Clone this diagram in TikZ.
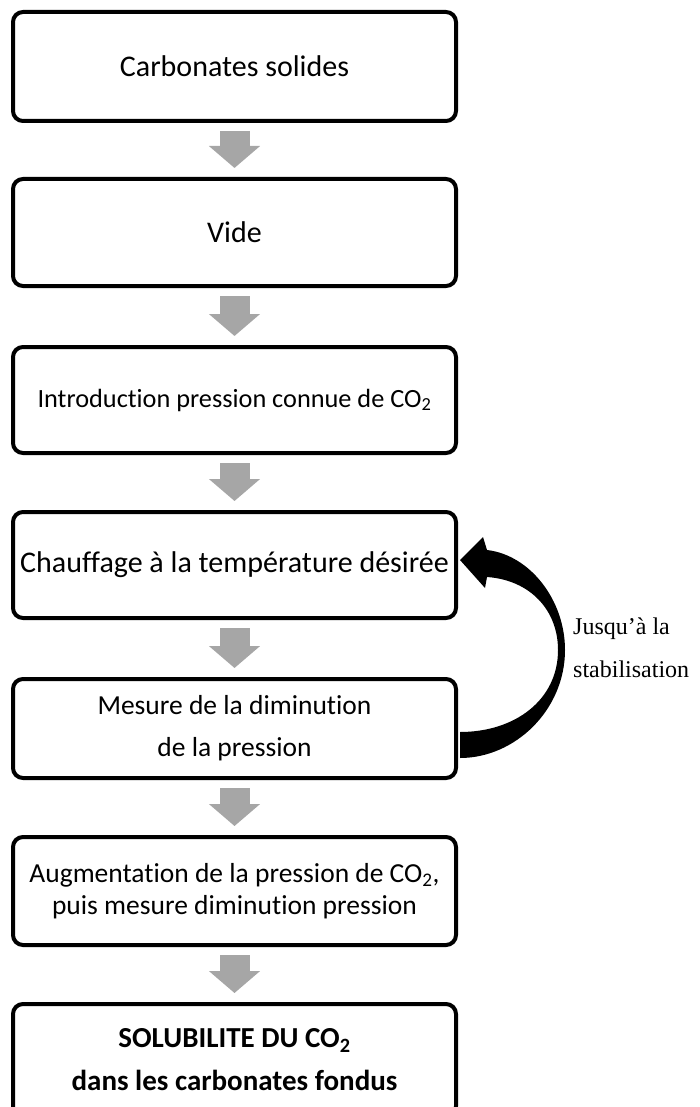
\documentclass[tikz,border=0pt]{standalone}
\usepackage{fontspec}
\setmainfont{Carlito}[Ligatures=NoCommon]
\newfontfamily\notefont{Liberation Serif}
\usetikzlibrary{arrows.meta, positioning, calc}
\definecolor{flowgray}{RGB}{166,166,166}

\begin{document}
\begin{tikzpicture}[
  x=1pt, y=-1pt,
  stepbox/.style={
    rectangle, draw=black, line width=4pt, rounded corners=10pt,
    minimum width=443pt, align=center, inner sep=2pt,
    font=\fontsize{30}{36}\selectfont},
  flow/.style={-{Triangle[width=50pt, length=22pt]}, line width=30pt,
    flowgray, shorten <=8pt, shorten >=9pt},
  loop/.style={fill=black},
  note/.style={font=\notefont\fontsize{24}{43}\selectfont, align=left,
    inner sep=0pt, anchor=west}
]
\useasboundingbox (0,0) rectangle (700,1107);
\clip (0,0) rectangle (700,1107);
% ── Steps ──
\node[stepbox, minimum height=109pt] (b1) at (234.5,66.5)  {Carbonates solides};
\node[stepbox, minimum height=107pt] (b2) at (234.5,232.5) {Vide};
\node[stepbox, minimum height=106pt, font=\fontsize{26.3}{32}\selectfont] (b3) at (234.5,400)
  {Introduction pression connue de CO\textsubscript{2}};
\node[stepbox, minimum height=106pt] (b4) at (234.5,565)   {Chauffage à la température désirée};
\node[stepbox, minimum height=99pt, font=\fontsize{27.5}{32}\selectfont] (b5) at (234.5,728.5)
  {Mesure de la diminution\\[10pt]de la pression};
\node[stepbox, minimum height=108pt, font=\fontsize{27.5}{32}\selectfont] (b6) at (234.5,891)
  {Augmentation de la pression de CO\textsubscript{2},\\puis mesure diminution pression};
\node[stepbox, minimum height=112pt, font=\fontsize{29}{32}\selectfont\bfseries] (b7) at (234.5,1060)
  {SOLUBILITE DU CO\textsubscript{2}\\[11pt]dans les carbonates fondus};
% ── Main arrows ──
\draw[flow] (b1) -- (b2);
\draw[flow] (b2) -- (b3);
\draw[flow] (b3) -- (b4);
\draw[flow] (b4) -- (b5);
\draw[flow] (b5) -- (b6);
\draw[flow] (b6) -- (b7);
% ── Loop back (until stable) ──
\coordinate (tip)     at ($(b4.east)+(2,-5)$);
\coordinate (tailout) at ($(b5.east)+(2,29.5)$);
\coordinate (tailin)  at ($(b5.east)+(2,3.5)$);
\fill[loop] (tip) -- ++(23,-23) -- ++(4,13)
  .. controls +(43,5) and +(0,-50) .. (565,650)
  .. controls +(0,60) and +(55,0) .. (tailout)
  -- (tailin)
  .. controls +(55,0) and +(0,50) .. (558,650)
  .. controls +(0,-40) and +(43,3) .. ($(tip)+(27,17)$)
  -- ++(-2,11) -- cycle;
\node[note] (until) at (573,648) {Jusqu’à la\\stabilisation};
\end{tikzpicture}
\end{document}
